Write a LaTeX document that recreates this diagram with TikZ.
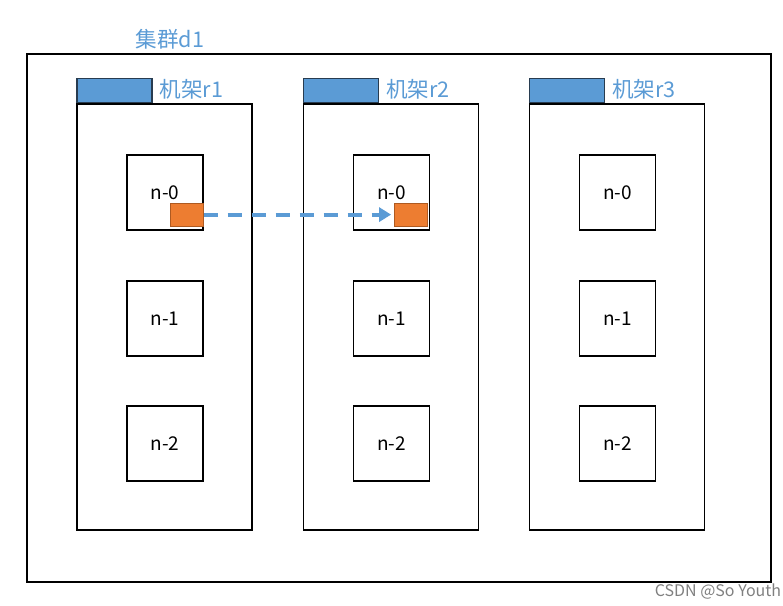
\documentclass[tikz,border=0pt]{standalone}
\usepackage{fontspec}
\setmainfont{Noto Sans CJK SC}
\usepackage{xcolor}
\usetikzlibrary{positioning,arrows.meta}
\definecolor{tabblue}{RGB}{91,155,213}
\definecolor{tabedge}{RGB}{40,60,80}
\definecolor{blockorange}{RGB}{237,125,49}
\definecolor{blockedge}{RGB}{174,90,33}
\tikzset{%
    cluster/.style={draw, line width=0.7pt, minimum width=372pt, minimum height=264pt},
    rack/.style={draw, line width=0.6pt, minimum width=87.5pt, minimum height=213pt},
    racktab/.style={draw=tabedge, fill=tabblue, line width=0.6pt, minimum width=37.5pt, minimum height=12pt, anchor=south west},
    server/.style={draw, line width=0.6pt, minimum width=38pt, minimum height=37.5pt, font=\fontsize{9.5}{11}\selectfont},
    block/.style={draw=blockedge, fill=blockorange, line width=0.5pt, minimum width=16.5pt, minimum height=11.5pt, anchor=south east, inner sep=0pt},
    bluelabel/.style={text=tabblue, font=\fontsize{10.8}{12}\selectfont},
    copyarrow/.style={draw=tabblue, line width=2pt, dash pattern=on 7pt off 5pt, -{Triangle[length=6pt,width=7pt]}, shorten >=1.5pt}
}

\begin{document}
\begin{tikzpicture}[x=0.5pt,y=-0.5pt]
    \useasboundingbox (0,0) rectangle (783,606);
    \node[cluster] (d1) at (399,318) {};
    \node[bluelabel] (d1label) at (170,39) {集群d1};
%-----------------------------------------------
    \foreach \r/\x in {1/164.5,2/391,3/617}{
        \node[rack] (r\r) at (\x,317) {};
        \node[racktab] (t\r) at (r\r.north west) {};
        \node[bluelabel, right=0pt of t\r, yshift=1pt] (l\r) {机架r\r};
        \foreach \n/\y in {0/192.5,1/318.5,2/443.5}{
            \node[server] (s\r-\n) at (\x+0.5,\y) {n-\n};
        }
    }
%-----------------------------------------------
    \node[block, yshift=2pt] (b1) at (s1-0.south east) {};
    \node[block, yshift=2pt, xshift=-1pt] (b2) at (s2-0.south east) {};
    \draw[copyarrow] (b1.east) -- (b2.west);
%-----------------------------------------------
    \node[text=gray, font=\fontsize{8}{9}\selectfont] (mark) at (718,592) {CSDN @So Youth};
\end{tikzpicture}
\end{document}
